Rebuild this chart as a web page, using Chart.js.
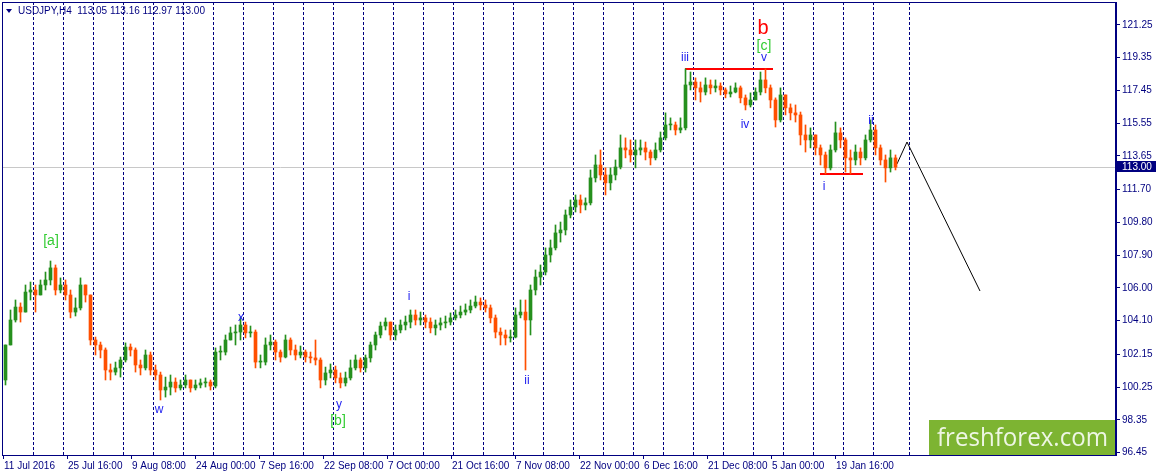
<!DOCTYPE html>
<html>
<head>
<meta charset="utf-8">
<script src="https://cdn.jsdelivr.net/npm/chart.js@4.4.1/dist/chart.umd.min.js"></script>
<style>
    html, body { margin: 0; padding: 0; background: #ffffff; }
    #wrap { width: 1156px; height: 476px; position: relative; }
</style>
</head>
<body>
<div id="wrap"><canvas id="usdjpy-chart"></canvas></div>
<script>
// USDJPY H4, one candle per 5 chart bars
var firstOpen = 100.66;
var closes = [
    102.69, 104.14, 104.89, 104.60, 105.76, 105.88, 105.59, 106.17, 106.46, 107.16,
    105.88, 106.17, 105.59, 104.60, 104.84, 106.17, 105.59, 102.98, 102.69, 102.40,
    101.24, 101.12, 101.36, 101.82, 102.57, 102.40, 101.53, 101.36, 102.11, 101.24,
    100.95, 100.08, 100.25, 100.54, 100.20, 100.37, 100.66, 100.20, 100.37, 100.49,
    100.54, 100.31, 102.28, 102.28, 102.98, 103.39, 103.44, 103.85, 103.39, 103.44,
    101.70, 101.70, 102.69, 102.86, 102.28, 101.99, 102.98, 102.40, 102.11, 102.28,
    101.99, 101.94, 101.82, 100.66, 101.07, 101.24, 100.78, 100.49, 100.78, 101.36,
    101.82, 101.36, 101.94, 102.69, 103.27, 103.79, 104.02, 103.27, 103.56, 103.85,
    104.02, 104.43, 104.14, 104.26, 104.02, 103.68, 103.85, 103.97, 104.02, 104.26,
    104.43, 104.60, 104.72, 104.95, 105.18, 105.01, 104.84, 104.26, 103.44, 103.27,
    103.10, 103.15, 104.43, 104.60, 104.14, 105.88, 106.63, 106.92, 107.91, 108.32,
    109.19, 109.36, 110.23, 110.69, 111.10, 110.81, 110.93, 112.38, 113.13, 112.55,
    112.09, 112.55, 113.01, 114.12, 114.00, 113.71, 114.00, 114.12, 113.88, 113.54,
    114.00, 114.70, 115.45, 115.45, 115.16, 115.28, 117.77, 117.94, 117.60, 117.36,
    117.77, 117.60, 117.71, 117.48, 117.25, 117.36, 117.60, 117.02, 116.61, 116.90,
    117.36, 118.06, 117.60, 116.90, 115.74, 117.19, 116.44, 116.15, 116.03, 114.87,
    114.58, 114.87, 114.12, 113.71, 112.96, 114.00, 114.99, 114.58, 113.54, 113.42,
    113.88, 113.54, 114.58, 115.16, 114.12, 113.42, 112.96, 113.54, 113.00
];
var highs = [
    102.69, 104.72, 105.30, 105.13, 106.17, 106.34, 106.17, 106.46, 106.92, 107.56,
    107.33, 106.58, 106.46, 105.88, 105.42, 106.58, 106.17, 105.59, 103.15, 102.86,
    102.52, 101.59, 101.70, 101.99, 102.81, 102.75, 102.52, 101.82, 102.40, 102.28,
    101.53, 101.12, 100.83, 100.95, 100.78, 100.66, 100.95, 100.66, 100.66, 100.72,
    100.78, 100.66, 102.52, 102.63, 103.27, 103.73, 103.85, 104.31, 104.02, 103.79,
    103.56, 102.11, 103.10, 103.27, 102.98, 102.40, 103.27, 103.10, 102.69, 102.63,
    102.40, 102.28, 102.98, 101.94, 101.41, 101.59, 101.47, 101.07, 101.12, 101.82,
    102.11, 101.94, 102.11, 102.86, 103.44, 104.02, 104.26, 104.02, 103.85, 104.14,
    104.37, 104.72, 104.72, 104.60, 104.43, 104.26, 104.14, 104.26, 104.37, 104.55,
    104.72, 104.95, 105.07, 105.30, 105.53, 105.42, 105.30, 105.01, 104.43, 103.68,
    103.56, 103.56, 104.84, 105.30, 105.30, 106.17, 107.04, 107.33, 108.32, 108.78,
    109.65, 109.82, 110.52, 111.10, 111.39, 111.39, 111.22, 112.84, 113.71, 114.00,
    112.96, 112.96, 113.42, 114.87, 114.70, 114.58, 114.58, 114.58, 114.46, 114.00,
    114.41, 115.04, 116.15, 115.86, 115.62, 115.86, 118.70, 118.52, 118.18, 117.94,
    118.18, 118.06, 118.06, 117.89, 117.60, 117.71, 117.89, 117.71, 117.19, 117.31,
    117.60, 118.52, 118.70, 117.77, 117.02, 117.60, 117.19, 116.67, 116.61, 116.20,
    115.45, 115.28, 114.87, 114.29, 113.88, 114.29, 115.62, 115.28, 114.70, 114.00,
    114.29, 114.12, 114.87, 115.74, 115.45, 114.29, 113.71, 114.00, 113.71
];
var lows = [
    100.37, 102.69, 104.02, 104.02, 104.60, 105.30, 104.60, 105.59, 105.88, 106.17,
    105.59, 105.71, 105.30, 104.26, 104.37, 104.72, 105.18, 102.69, 102.11, 101.94,
    100.66, 100.66, 100.95, 100.83, 101.70, 102.05, 101.12, 100.95, 101.24, 100.95,
    100.66, 99.50, 99.67, 99.79, 99.96, 100.08, 100.20, 99.96, 100.08, 100.20,
    100.25, 100.08, 100.20, 101.82, 102.11, 102.98, 102.69, 102.98, 103.10, 103.15,
    101.36, 101.36, 101.53, 102.40, 101.82, 101.70, 101.94, 102.11, 101.82, 101.94,
    101.70, 101.65, 101.53, 100.20, 100.37, 100.78, 100.49, 100.20, 100.31, 100.66,
    101.24, 101.12, 101.12, 101.70, 102.40, 103.10, 103.56, 102.98, 102.98, 103.39,
    103.56, 103.68, 103.85, 103.85, 103.68, 103.39, 103.27, 103.56, 103.68, 103.85,
    104.14, 104.26, 104.43, 104.55, 104.84, 104.72, 104.60, 103.97, 103.10, 102.69,
    102.69, 102.86, 103.10, 104.26, 101.24, 103.27, 105.59, 106.17, 106.75, 107.50,
    108.20, 108.66, 109.07, 110.06, 110.40, 110.35, 110.52, 110.81, 112.14, 112.26,
    111.39, 111.68, 112.26, 112.90, 113.54, 113.30, 112.96, 113.71, 113.42, 113.13,
    113.42, 113.88, 114.58, 115.16, 114.87, 114.99, 115.16, 117.48, 116.90, 116.78,
    117.19, 117.25, 117.36, 117.19, 117.02, 117.07, 117.31, 116.73, 116.32, 116.49,
    116.90, 117.19, 117.31, 116.44, 115.33, 115.62, 116.03, 115.74, 115.62, 114.29,
    113.88, 114.12, 113.71, 113.13, 112.61, 112.84, 113.88, 114.12, 112.72, 112.61,
    113.13, 113.13, 113.42, 114.46, 113.71, 113.13, 112.14, 112.72, 112.84
];

// axis ticks
var priceTicks = [121.25, 119.35, 117.45, 115.55, 113.65, 111.70, 109.80,
    107.90, 106.00, 104.10, 102.15, 100.25, 98.35, 96.45];
var timeLabels = ["11 Jul 2016", "25 Jul 16:00", "9 Aug 08:00", "24 Aug 00:00",
    "7 Sep 16:00", "22 Sep 08:00", "7 Oct 00:00", "21 Oct 16:00", "7 Nov 08:00",
    "22 Nov 00:00", "6 Dec 16:00", "21 Dec 08:00", "5 Jan 00:00", "19 Jan 16:00"];
var timeLabelBars = [1, 65, 129, 193, 257, 321, 385, 449, 513, 577, 641, 705, 769, 833];
var weekSeparatorBars = [31, 61, 91, 121, 151, 181, 211, 241, 271, 301, 331, 361,
    391, 421, 451, 481, 511, 541, 571, 601, 631, 661, 691, 721, 751, 781, 811,
    841, 871, 907];

// wave marks
var waveLabels = ["[a]", "w", "x", "y", "[b]", "i", "ii", "iii", "b", "[c]", "v", "iv", "i", "ii"];
var waveLabelBars = [49, 157, 239, 337, 336, 407, 525, 683, 761, 762, 762, 743, 822, 869];
var waveLabelPrices = [108.72, 98.92, 104.26, 99.21, 98.28, 105.47, 100.60,
    119.34, 121.02, 120.03, 119.34, 115.45, 111.85, 115.68];

var levelStartBars = [683, 818];
var levelEndBars = [771, 861];
var levelPrices = [118.70, 112.61];

var forecastBars = [895, 905, 978];
var forecastPrices = [113.19, 114.46, 105.82];

var candleFirstBar = 3.5;
var candleStep = 5;

var navy = "#000080";
var upColor = "#26901e";
var downColor = "#ff4f00";

var opens = closes.map(function (c, i) {
    return i === 0 ? firstOpen : closes[i - 1];
});
var candleBars = closes.map(function (c, i) {
    return candleFirstBar + candleStep * i;
});
var candleColors = closes.map(function (c, i) {
    return c >= opens[i] ? upColor : downColor;
});

var wickData = candleBars.map(function (x, i) {
    return { x: x, y: [lows[i], highs[i]] };
});
var bodyData = candleBars.map(function (x, i) {
    return { x: x, y: [Math.min(opens[i], closes[i]), Math.max(opens[i], closes[i])] };
});

var levelDatasets = levelPrices.map(function (p, i) {
    return {
        type: "line",
        data: [{ x: levelStartBars[i], y: p }, { x: levelEndBars[i], y: p }],
        borderColor: "#ff0000",
        borderWidth: 2,
        pointRadius: 0,
    };
});

function waveColor(text) {
    if (text.charAt(0) === "[") return "#33cc33";
    if (text === "b") return "#ff0000";
    return "#2323f0";
}
function waveFont(text) {
    if (text.charAt(0) === "[") return "14px 'Liberation Sans'";
    if (text === "b") return "20px 'Liberation Sans'";
    return "12px 'Liberation Sans'";
}

var chartDecor = {
    id: "chartDecor",
    beforeDatasetsDraw: function (chart) {
        var c = chart.ctx;
        var area = chart.chartArea;
        var xs = chart.scales.x;
        var yPx = chart.scales.y.getPixelForValue(closes[closes.length - 1]);
        c.save();
        // weekly separators
        c.strokeStyle = navy;
        c.lineWidth = 1;
        c.setLineDash([3, 2]);
        weekSeparatorBars.forEach(function (v) {
            var px = Math.round(xs.getPixelForValue(v)) + 0.5;
            c.beginPath();
            c.moveTo(px, area.top);
            c.lineTo(px, area.bottom);
            c.stroke();
        });
        c.setLineDash([]);
        // last price line
        c.strokeStyle = "#c8c8c8";
        c.beginPath();
        c.moveTo(area.left, Math.round(yPx) + 0.5);
        c.lineTo(area.right, Math.round(yPx) + 0.5);
        c.stroke();
        c.restore();
    },
    afterDatasetsDraw: function (chart) {
        var c = chart.ctx;
        var xs = chart.scales.x;
        var ys = chart.scales.y;
        var area = chart.chartArea;
        c.save();
        c.textAlign = "center";
        c.textBaseline = "middle";
        waveLabels.forEach(function (t, i) {
            c.font = waveFont(t);
            c.fillStyle = waveColor(t);
            c.fillText(t, xs.getPixelForValue(waveLabelBars[i]), ys.getPixelForValue(waveLabelPrices[i]));
        });

        // title
        c.textAlign = "left";
        c.fillStyle = navy;
        c.beginPath();
        c.moveTo(6, 9);
        c.lineTo(12, 9);
        c.lineTo(9, 13);
        c.closePath();
        c.fill();
        c.font = "10px 'Liberation Sans'";
        c.fillText("USDJPY,H4  113.05 113.16 112.97 113.00", 18, 11);

        // watermark
        c.fillStyle = "#7db432";
        c.fillRect(929, 420, area.right - 929, area.bottom - 420);
        c.fillStyle = "#eef6e4";
        c.font = "25px 'Open Sans'";
        c.textBaseline = "alphabetic";
        c.fillText("freshforex.com", 937, 446, 171);

        // frame
        c.strokeStyle = navy;
        c.lineWidth = 1;
        c.strokeRect(area.left + 0.5, area.top + 0.5, area.right - area.left - 1, area.bottom - area.top);

        // last price box
        var yPx = ys.getPixelForValue(closes[closes.length - 1]);
        c.fillStyle = navy;
        c.fillRect(area.right + 1, Math.round(yPx) - 6, 40, 11);
        c.fillStyle = "#ffffff";
        c.font = "10px 'Liberation Sans'";
        c.textBaseline = "middle";
        c.fillText(closes[closes.length - 1].toFixed(2), area.right + 6, Math.round(yPx));
        c.restore();
    },
};

function noScalePadding(scale) {
    scale.paddingTop = 0;
    scale.paddingBottom = 0;
    scale.paddingLeft = 0;
    scale.paddingRight = 0;
}

var usdjpyChart = new Chart(document.getElementById("usdjpy-chart").getContext("2d"), {
    type: "bar",
    data: {
        datasets: [
            {
                type: "bar",
                data: wickData,
                backgroundColor: candleColors,
                barThickness: 1,
                grouped: false,
            },
            {
                type: "bar",
                data: bodyData,
                backgroundColor: candleColors,
                barThickness: 3,
                grouped: false,
                minBarLength: 1,
            },
        ].concat(levelDatasets, [
            {
                type: "line",
                data: forecastBars.map(function (x, i) {
                    return { x: x, y: forecastPrices[i] };
                }),
                borderColor: "#000000",
                borderWidth: 1,
                pointRadius: 0,
                tension: 0,
            },
        ]),
    },
    options: {
        responsive: true,
        maintainAspectRatio: false,
        animation: false,
        events: [],
        layout: { padding: { left: 2, top: 2, right: 0, bottom: 0 } },
        plugins: {
            legend: { display: false },
            tooltip: { enabled: false },
        },
        scales: {
            x: {
                type: "linear",
                min: 0,
                max: 1114,
                offset: false,
                afterBuildTicks: function (scale) {
                    scale.ticks = timeLabelBars.map(function (v) { return { value: v }; });
                },
                afterFit: function (scale) {
                    scale.height = 21;
                    noScalePadding(scale);
                },
                ticks: {
                    autoSkip: false,
                    maxRotation: 0,
                    align: "start",
                    labelOffset: 1,
                    padding: 1,
                    color: navy,
                    font: { family: "Liberation Sans", size: 10 },
                    callback: function (v, i) { return timeLabels[i]; },
                },
                grid: { drawOnChartArea: false, offset: false, color: navy, tickLength: 4 },
                border: { color: navy },
            },
            y: {
                position: "right",
                min: 96.31,
                max: 122.58,
                afterBuildTicks: function (scale) {
                    scale.ticks = priceTicks.map(function (v) { return { value: v }; });
                },
                afterFit: function (scale) {
                    scale.width = 40;
                    noScalePadding(scale);
                },
                ticks: {
                    color: navy,
                    padding: 2,
                    font: { family: "Liberation Sans", size: 10 },
                    callback: function (v) { return Number(v).toFixed(2); },
                },
                grid: { drawOnChartArea: false, color: navy, tickLength: 4 },
                border: { color: navy },
            },
        },
    },
    plugins: [chartDecor],
});
</script>
</body>
</html>
